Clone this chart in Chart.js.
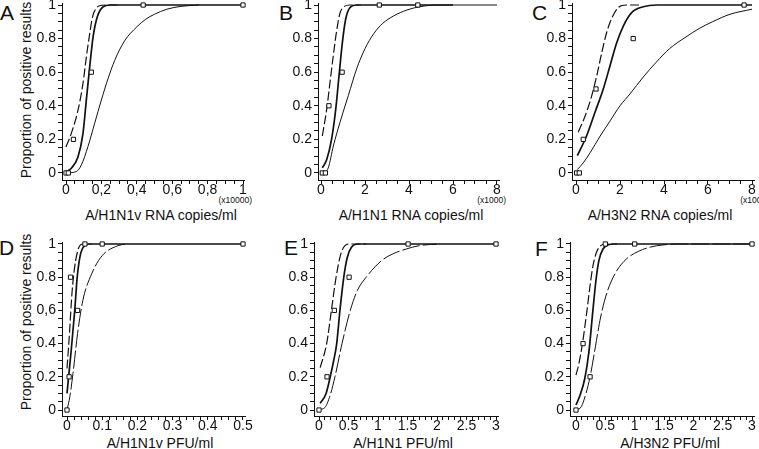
<!DOCTYPE html>
<html>
<head>
<meta charset="utf-8">
<script src="https://cdn.jsdelivr.net/npm/chart.js@4.4.1/dist/chart.umd.min.js"></script>
<style>
body { margin: 0; background: #fff; width: 759px; height: 449px; overflow: hidden; position: relative; font-family: "Liberation Sans", Arial, sans-serif; color: #111; }
.panel { position: absolute; }
.lbl { position: absolute; white-space: nowrap; font-size: 14px; line-height: 16px; }
.letter { position: absolute; font-size: 21px; line-height: 21px; }
.mult { position: absolute; font-size: 8.5px; line-height: 10px; text-align: right; width: 40px; }
.ytitle { position: absolute; width: 200px; text-align: center; font-size: 14px; line-height: 16px; transform: rotate(-90deg); }
</style>
</head>
<body>
<div class="letter" style="left:0px;top:2px">A</div>
<div class="letter" style="left:279px;top:2px">B</div>
<div class="letter" style="left:532px;top:2px">C</div>
<div class="letter" style="left:-1px;top:237px">D</div>
<div class="letter" style="left:284px;top:237px">E</div>
<div class="letter" style="left:535px;top:238px">F</div>

<div class="ytitle" style="left:-74px;top:82px">Proportion of positive results</div>
<div class="ytitle" style="left:-74px;top:314px">Proportion of positive results</div>

<div class="mult" style="left:212px;top:195px">(x10000)</div>
<div class="mult" style="left:466px;top:195px">(x1000)</div>
<div class="mult" style="left:729px;top:195px">(x1000)</div>

<div class="lbl" style="left:61px;top:207px;width:200px;text-align:center">A/H1N1v RNA copies/ml</div>
<div class="lbl" style="left:311px;top:207px;width:200px;text-align:center">A/H1N1 RNA copies/ml</div>
<div class="lbl" style="left:560px;top:207px;width:200px;text-align:center">A/H3N2 RNA copies/ml</div>
<div class="lbl" style="left:60px;top:435px;width:200px;text-align:center">A/H1N1v PFU/ml</div>
<div class="lbl" style="left:303px;top:435px;width:200px;text-align:center">A/H1N1 PFU/ml</div>
<div class="lbl" style="left:570px;top:435px;width:200px;text-align:center">A/H3N2 PFU/ml</div>

<script>
// tick values and labels
const Y_TICKS = [0, 0.2, 0.4, 0.6, 0.8, 1];
const Y_LABELS = ["0", "0.2", "0.4", "0.6", "0.8", "1"];
const D_Y_LABELS = ["0", "0.2", "0.4", "0,6", "0.8", "1"];
const A_X_TICKS = [0, 0.2, 0.4, 0.6, 0.8, 1];
const A_X_LABELS = ["0", "0,2", "0,4", "0,6", "0,8", "1"];
const BC_X_TICKS = [0, 2, 4, 6, 8];
const BC_X_LABELS = ["0", "2", "4", "6", "8"];
const D_X_TICKS = [0, 0.1, 0.2, 0.3, 0.4, 0.5];
const D_X_LABELS = ["0", "0.1", "0.2", "0.3", "0.4", "0.5"];
const EF_X_TICKS = [0, 0.5, 1, 1.5, 2, 2.5, 3];
const EF_X_LABELS = ["0", "0.5", "1", "1.5", "2", "2.5", "3"];

// A: A/H1N1v RNA copies/ml (x10000)
const A_markers = [[0, 0], [0.013, 0], [0.042, 0.2], [0.143, 0.6], [0.436, 1], [1, 1]];
const A_dashed = [[0, 0.155], [0.03, 0.236], [0.068, 0.375], [0.096, 0.534], [0.115, 0.69], [0.134, 0.83], [0.15, 0.93], [0.17, 0.98], [0.19, 0.996], [0.22, 1], [0.3, 1]];
const A_thick = [[0, 0.008], [0.03, 0.028], [0.068, 0.097], [0.096, 0.236], [0.115, 0.435], [0.134, 0.633], [0.153, 0.81], [0.177, 0.93], [0.21, 0.99], [0.25, 1], [1, 1]];
const A_thin = [[0, 0], [0.058, 0.008], [0.087, 0.048], [0.124, 0.157], [0.162, 0.296], [0.2, 0.435], [0.237, 0.56], [0.275, 0.67], [0.33, 0.785], [0.4, 0.87], [0.45, 0.915], [0.5, 0.945], [0.57, 0.975], [0.65, 0.992], [0.75, 1]];

// B: A/H1N1 RNA copies/ml (x1000)
const B_markers = [[0.06, 0], [0.2, 0], [0.36, 0.4], [0.96, 0.6], [2.65, 1], [4.4, 1]];
const B_dashed = [[0.06, 0.22], [0.26, 0.38], [0.41, 0.54], [0.56, 0.7], [0.71, 0.845], [0.86, 0.95], [1.05, 0.99], [1.3, 1], [1.8, 1]];
const B_thick = [[0.06, 0.03], [0.26, 0.08], [0.48, 0.2], [0.67, 0.38], [0.82, 0.58], [0.97, 0.775], [1.12, 0.915], [1.32, 0.985], [1.62, 1], [6, 1]];
const B_thin = [[0.1, 0], [0.33, 0.03], [0.56, 0.16], [0.86, 0.3], [1.24, 0.46], [1.62, 0.62], [2, 0.74], [2.4, 0.83], [2.8, 0.89], [3.3, 0.935], [3.9, 0.97], [4.5, 0.99], [5.3, 1], [8, 1]];

// C: A/H3N2 RNA copies/ml (x1000)
const C_markers = [[0.03, 0], [0.15, 0], [0.33, 0.2], [0.91, 0.5], [2.6, 0.8], [7.64, 1]];
const C_dashed = [[0.1, 0.243], [0.41, 0.338], [0.71, 0.457], [0.94, 0.577], [1.17, 0.716], [1.39, 0.835], [1.62, 0.92], [1.92, 0.985], [2.3, 1], [3, 1]];
const C_thick = [[0.06, 0.103], [0.48, 0.22], [0.86, 0.36], [1.24, 0.5], [1.55, 0.64], [1.85, 0.775], [2.15, 0.875], [2.53, 0.955], [3.06, 0.99], [3.67, 1], [8, 1]];
const C_thin = [[0.06, 0.02], [0.33, 0.06], [0.64, 0.12], [1.1, 0.22], [1.55, 0.31], [2, 0.4], [2.45, 0.47], [3.05, 0.57], [3.65, 0.66], [4.25, 0.74], [5, 0.81], [5.6, 0.86], [6.2, 0.9], [7, 0.945], [8, 0.975]];

// D: A/H1N1v PFU/ml
const D_markers = [[0, 0], [0.006, 0.2], [0.01, 0.8], [0.03, 0.6], [0.051, 1], [0.1, 1], [0.5, 1]];
const D_dashed = [[0, 0.25], [0.007, 0.46], [0.014, 0.7], [0.022, 0.865], [0.033, 0.976], [0.045, 1], [0.07, 1]];
const D_thick = [[0, 0.1], [0.012, 0.36], [0.022, 0.6], [0.029, 0.8], [0.039, 0.945], [0.05, 0.99], [0.065, 1], [0.5, 1]];
const D_thin = [[0, 0], [0.008, 0.08], [0.017, 0.22], [0.03, 0.46], [0.045, 0.66], [0.07, 0.82], [0.1, 0.93], [0.145, 0.99], [0.17, 1]];

// E: A/H1N1 PFU/ml
const E_markers = [[0, 0], [0.136, 0.2], [0.26, 0.6], [0.51, 0.8], [1.51, 1], [3, 1]];
const E_dashed = [[0.02, 0.255], [0.13, 0.4], [0.21, 0.6], [0.29, 0.8], [0.37, 0.94], [0.44, 0.99], [0.52, 1], [0.8, 1]];
const E_thick = [[0.02, 0.04], [0.12, 0.1], [0.19, 0.2], [0.25, 0.3], [0.3, 0.4], [0.355, 0.6], [0.42, 0.8], [0.48, 0.92], [0.55, 0.98], [0.66, 1], [3, 1]];
const E_thin = [[0.02, 0.004], [0.1, 0.015], [0.19, 0.09], [0.27, 0.2], [0.39, 0.4], [0.53, 0.6], [0.65, 0.72], [0.8, 0.8], [1.06, 0.9], [1.25, 0.94], [1.48, 0.97], [1.7, 0.99], [2, 1]];

// F: A/H3N2 PFU/ml
const F_markers = [[0, 0], [0.12, 0.4], [0.24, 0.2], [0.5, 1], [1, 1], [3, 1]];
const F_dashed = [[0, 0.21], [0.05, 0.28], [0.11, 0.4], [0.18, 0.58], [0.24, 0.75], [0.29, 0.87], [0.35, 0.95], [0.42, 0.99], [0.5, 1], [0.7, 1]];
const F_thick = [[0, 0.03], [0.07, 0.09], [0.15, 0.19], [0.22, 0.35], [0.28, 0.57], [0.34, 0.78], [0.39, 0.9], [0.46, 0.97], [0.55, 0.995], [0.65, 1], [3, 1]];
const F_thin = [[0, 0], [0.09, 0.02], [0.17, 0.1], [0.24, 0.2], [0.33, 0.38], [0.42, 0.56], [0.53, 0.71], [0.68, 0.83], [0.86, 0.91], [1.06, 0.955], [1.25, 0.98], [1.5, 0.995], [1.75, 1], [3, 1]];

// page geometry of each panel (axis line x, pixel of x=0, pixel of last tick)
const rows = [
	{ top: -10, h: 210, padTop: 13, yMin: -0.042, yMax: 1.012 },
	{ top: 230, h: 206, padTop: 12, yMin: -0.036, yMax: 1.012 }
];
const panels = [
	{ row: 0, axisX: 62, x0: 66, xEnd: 243, minor: 0.05, xTicks: A_X_TICKS, xLabels: A_X_LABELS, yLabels: Y_LABELS, markers: A_markers, dashed: A_dashed, thick: A_thick, thin: A_thin },
	{ row: 0, axisX: 318, x0: 321, xEnd: 497, minor: 0.5, xTicks: BC_X_TICKS, xLabels: BC_X_LABELS, yLabels: Y_LABELS, markers: B_markers, dashed: B_dashed, thick: B_thick, thin: B_thin },
	{ row: 0, axisX: 572, x0: 576, xEnd: 752, minor: 0.5, xTicks: BC_X_TICKS, xLabels: BC_X_LABELS, yLabels: Y_LABELS, markers: C_markers, dashed: C_dashed, thick: C_thick, thin: C_thin },
	{ row: 1, axisX: 62, x0: 67, xEnd: 243, minor: 0.02, xTicks: D_X_TICKS, xLabels: D_X_LABELS, yLabels: D_Y_LABELS, markers: D_markers, dashed: D_dashed, thick: D_thick, thin: D_thin },
	{ row: 1, axisX: 314, x0: 319, xEnd: 496, minor: 0.1, xTicks: EF_X_TICKS, xLabels: EF_X_LABELS, yLabels: Y_LABELS, markers: E_markers, dashed: E_dashed, thick: E_thick, thin: E_thin },
	{ row: 1, axisX: 570, x0: 576, xEnd: 752, minor: 0.1, xTicks: EF_X_TICKS, xLabels: EF_X_LABELS, yLabels: Y_LABELS, markers: F_markers, dashed: F_dashed, thick: F_thick, thin: F_thin }
];

const INK = "#111";
const FONT = { family: "'Liberation Sans', Arial, sans-serif", size: 14 };

function toXY (pairs) {
	return pairs.map(([x, y]) => ({ x, y }));
}

function minorTicks (last, step) {
	const n = Math.round(last / step);
	const out = [];
	for (let i = 0; i <= n; i++) out.push(+(i * step).toFixed(6));
	return out;
}

function labelFor (majors, labels) {
	return (value) => {
		const i = majors.findIndex((m) => Math.abs(m - value) < 1e-6);
		return i >= 0 ? labels[i] : "";
	};
}

function curve (pairs, width, dash) {
	return {
		data: toXY(pairs),
		showLine: true,
		borderColor: INK,
		borderWidth: width,
		borderDash: dash,
		pointRadius: 0,
		cubicInterpolationMode: "monotone",
		fill: false
	};
}

function makePanel (p) {
	const row = rows[p.row];
	const last = p.xTicks[p.xTicks.length - 1];
	const ppu = (p.xEnd - p.x0) / last;
	const xMin = -(p.x0 - p.axisX) / ppu;
	const xMax = last + 2 / ppu;
	const right = p.axisX + (xMax - xMin) * ppu;
	const left = p.axisX - 40;
	const width = Math.ceil(right - left + 16);

	const div = document.createElement("div");
	div.className = "panel";
	div.style.left = left + "px";
	div.style.top = row.top + "px";
	const canvas = document.createElement("canvas");
	canvas.width = width;
	canvas.height = row.h;
	div.append(canvas);
	document.body.append(div);

	const xAll = minorTicks(last, p.minor);
	const yAll = minorTicks(1, 0.05);

	new Chart(canvas, {
		type: "scatter",
		data: {
			datasets: [
				{
					data: toXY(p.markers),
					showLine: false,
					pointStyle: "rect",
					pointRadius: 3,
					pointBorderWidth: 1,
					pointBackgroundColor: "#fff",
					pointBorderColor: INK,
					clip: false
				},
				curve(p.dashed, 1.2, [9, 3]),
				curve(p.thick, 1.7, []),
				curve(p.thin, 1, p.row === 1 ? [18, 3] : [])
			]
		},
		options: {
			responsive: false,
			animation: false,
			events: [],
			layout: { padding: { top: row.padTop, left: 0, bottom: 0, right: width - (right - left) } },
			plugins: { legend: { display: false }, tooltip: { enabled: false } },
			scales: {
				x: {
					type: "linear",
					min: xMin,
					max: xMax,
					afterBuildTicks: (s) => { s.ticks = xAll.map((v) => ({ value: v })); },
					afterFit: (s) => { s.height = 20; },
					grid: { drawOnChartArea: false, drawTicks: true, tickLength: 4, color: INK },
					border: { display: true, color: INK, width: 1 },
					ticks: { autoSkip: false, maxRotation: 0, padding: -2, color: INK, font: FONT, callback: labelFor(p.xTicks, p.xLabels) }
				},
				y: {
					type: "linear",
					min: row.yMin,
					max: row.yMax,
					afterBuildTicks: (s) => { s.ticks = yAll.map((v) => ({ value: v })); },
					afterFit: (s) => { s.width = 40; },
					grid: { drawOnChartArea: false, drawTicks: true, tickLength: 4, color: INK },
					border: { display: true, color: INK, width: 1 },
					ticks: { autoSkip: false, padding: 2, color: INK, font: FONT, callback: labelFor(Y_TICKS, p.yLabels) }
				}
			}
		}
	});
}

panels.forEach(makePanel);
</script>
</body>
</html>
